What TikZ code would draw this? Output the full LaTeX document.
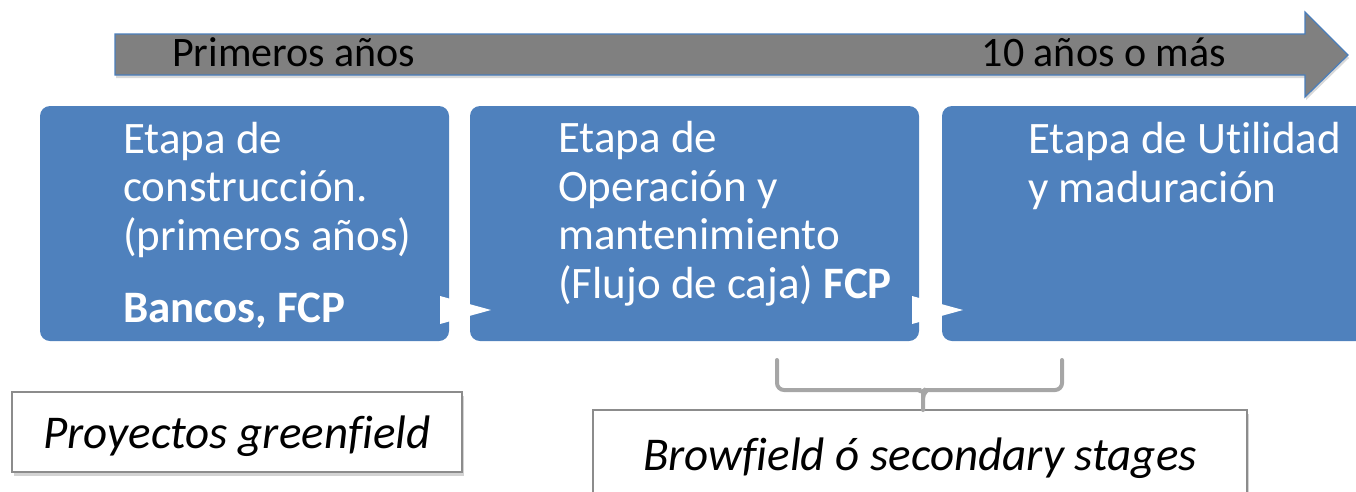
\documentclass[tikz,border=0pt]{standalone}
\usepackage{fontspec}
\setmainfont{Carlito}[Ligatures=NoCommon]
\usetikzlibrary{shadows}
\definecolor{stageblue}{HTML}{4F81BD}
\definecolor{arrowgray}{HTML}{808080}
\definecolor{arrowedge}{HTML}{4A7EBB}
\definecolor{bracegray}{HTML}{A6A6A6}
\definecolor{boxgray}{HTML}{8C8C8C}
\tikzset{
  stagebox/.style={fill=stageblue, draw=none, rounded corners=10pt, anchor=north west, inner sep=0pt, outer sep=0pt},
  stagetext/.style={text=white, anchor=base west, inner sep=0pt, align=left, font=\fontsize{45}{48.5}\selectfont},
  arrowtext/.style={text=black, inner sep=0pt, font=\fontsize{42}{48}\selectfont},
  notebox/.style={draw=boxgray, line width=1.5pt, fill=white, inner sep=0pt, font=\fontsize{47}{52}\selectfont\itshape,
    drop shadow={opacity=0.35, shadow xshift=2pt, shadow yshift=-4pt}},
  flowtri/.style={fill=white, draw=none},
  bracket/.style={draw=bracegray, line width=4pt, line cap=round, rounded corners=7pt}
}
\begin{document}
\begin{tikzpicture}[x=1pt, y=-1pt]
\useasboundingbox (0,0) rectangle (1356,491);
\clip (0,0) rectangle (1356,491);
% timeline arrow
\path[fill=arrowgray, draw=arrowedge, line width=1.2pt, drop shadow={opacity=0.3, shadow xshift=1pt, shadow yshift=-3pt}]
  (115,34) -- (1305,34) -- (1305,12) -- (1348,55) -- (1305,97) -- (1305,75) -- (115,75) -- cycle;
\node[arrowtext, anchor=base west] (ta) at (172,66.5) {Primeros años};
\node[arrowtext, anchor=base east] (tb) at (1226,66.5) {10 años o más};
% stage boxes
\node[stagebox, minimum width=409pt, minimum height=235pt] (b1) at (40,106) {};
\node[stagebox, minimum width=449pt, minimum height=235pt] (b2) at (470,106) {};
\node[stagebox, minimum width=440pt, minimum height=235pt] (b3) at (942,106) {};
\node[stagetext] (t1) at (123,250) {Etapa de\\construcción.\\(primeros años)};
\node[stagetext] (t1b) at (123,322) {\bfseries Bancos, FCP};
\node[stagetext] (t2) at (558,298) {Etapa de\\Operación y\\mantenimiento\\(Flujo de caja) \textbf{FCP}};
\node[stagetext] (t3) at (1028,202) {Etapa de Utilidad\\y maduración};
% flow triangles
\path[flowtri] (440,296) -- (491,310) -- (440,324) -- cycle;
\path[flowtri] (912,296) -- (963,310) -- (912,324) -- cycle;
% note boxes
\node[notebox, minimum width=450pt, minimum height=80pt, text height=40pt, text depth=8pt] (g) at (237,432) {Proyectos greenfield};
\node[notebox, minimum width=654pt, minimum height=120pt, text height=16pt, text depth=16pt] (bf) at (920,470) {Browfield ó secondary stages};
% bracket
\coordinate (bl) at (777,360);
\coordinate (br) at (1062,360);
\coordinate (bm) at (923,398);
\coordinate (bt) at (923,410);
\draw[bracket] (bl) -- (777,390) -- (912,390) to[out=0,in=90] (bm) -- (bt);
\draw[bracket] (br) -- (1062,390) -- (934,390) to[out=180,in=90] (bm);
\end{tikzpicture}
\end{document}
